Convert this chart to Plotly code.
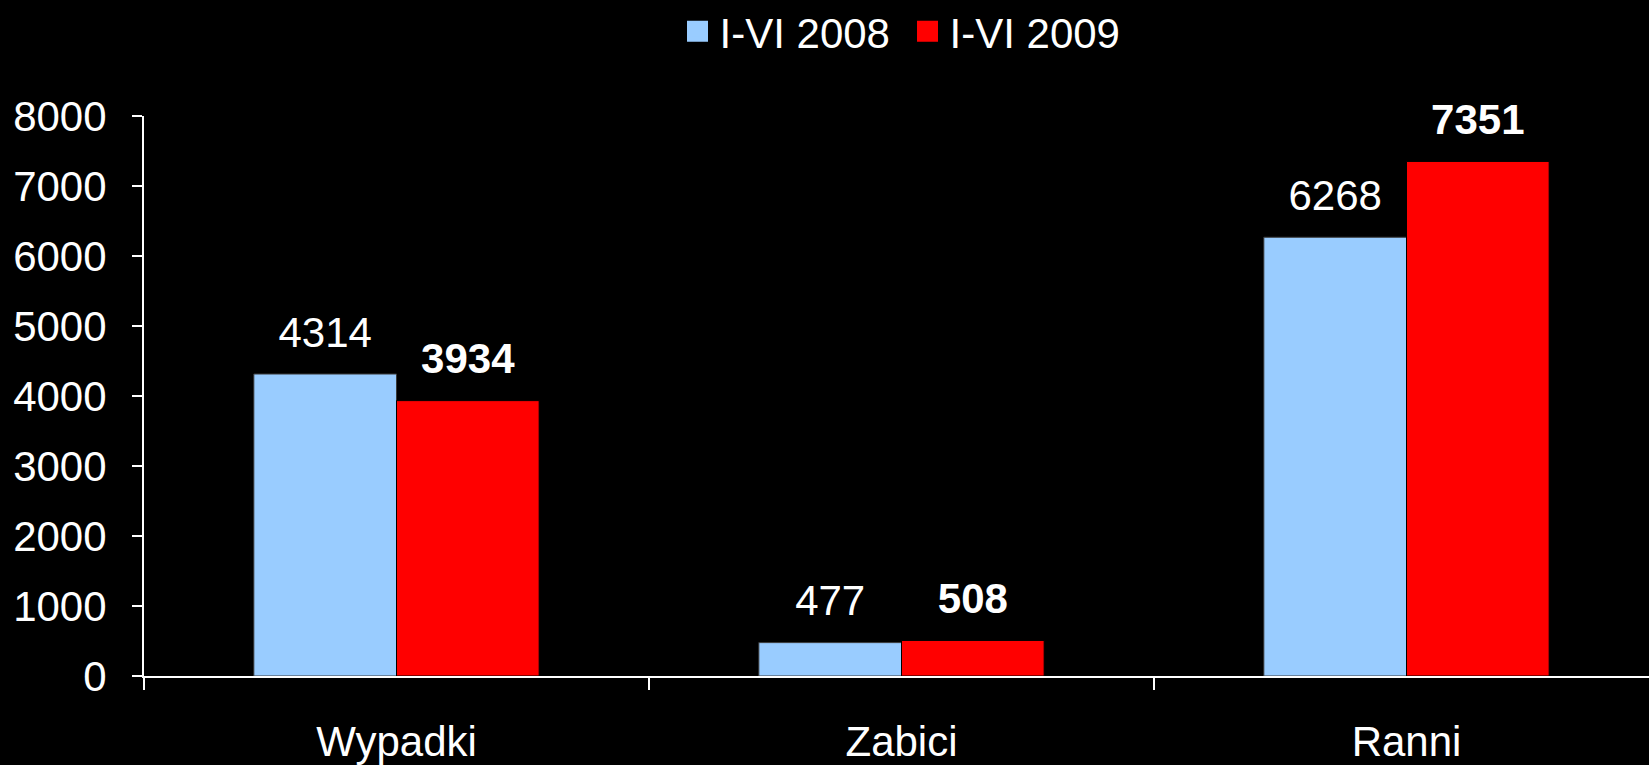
import plotly.graph_objects as go

categories = ["Wypadki", "Zabici", "Ranni"]
series_names = ["I-VI 2008", "I-VI 2009"]
values_2008 = [4314, 477, 6268]
values_2009 = [3934, 508, 7351]
y_ticks = [0, 1000, 2000, 3000, 4000, 5000, 6000, 7000, 8000]

BLUE = "#99CCFF"
RED = "#FF0000"
FONT = "Liberation Sans, Arial, sans-serif"
FS = 42
GAP = 0.435

fig = go.Figure()

fig.add_trace(go.Bar(
    x=categories, y=values_2008, name=series_names[0], offsetgroup="a",
    marker=dict(color=BLUE, line=dict(color="#3a3a3a", width=1)),
    showlegend=False, hoverinfo="skip"))
fig.add_trace(go.Bar(
    x=categories, y=values_2009, name=series_names[1], offsetgroup="b",
    marker=dict(color=RED, line=dict(color="#000000", width=1)),
    showlegend=False, hoverinfo="skip"))

# value labels
fig.add_trace(go.Scatter(
    x=categories, y=values_2008, mode="markers+text", offsetgroup="a",
    text=[str(v) for v in values_2008], textposition="top center",
    textfont=dict(family=FONT, size=FS, color="white"), cliponaxis=False,
    marker=dict(size=25, opacity=0), showlegend=False, hoverinfo="skip"))
fig.add_trace(go.Scatter(
    x=categories, y=values_2009, mode="markers+text", offsetgroup="b",
    text=["<b>%d</b>" % v for v in values_2009], textposition="top center",
    textfont=dict(family=FONT, size=FS, color="white"), cliponaxis=False,
    marker=dict(size=25, opacity=0), showlegend=False, hoverinfo="skip"))

# legend entries
for name, col in [(series_names[0], BLUE), (series_names[1], RED)]:
    fig.add_trace(go.Scatter(
        x=[None], y=[None], mode="markers", name=name,
        marker=dict(symbol="square", size=16, color=col, line=dict(color=col, width=5))))

plot_left, plot_right = 144, 1649
cat_width = 505
x_hi = -0.5 + (plot_right - plot_left) / cat_width

fig.update_layout(
    width=1649, height=765,
    paper_bgcolor="black", plot_bgcolor="black",
    margin=dict(l=plot_left, r=1649 - plot_right, t=116, b=87),
    barmode="group", bargap=GAP, bargroupgap=0,
    scattermode="group", scattergap=GAP,
    font=dict(family=FONT, size=FS, color="white"),
    showlegend=True,
    legend=dict(orientation="h", x=0.506, xanchor="center", y=0.959, yref="container",
                yanchor="middle", font=dict(family=FONT, size=FS, color="white"),
                bgcolor="rgba(0,0,0,0)", itemclick=False, itemwidth=34,
                entrywidth=181, entrywidthmode="pixels"),
    xaxis=dict(range=[-0.5, x_hi], showgrid=False, zeroline=False,
               showline=True, linecolor="white", linewidth=2,
               ticks="outside", tickson="boundaries", ticklen=12, tickwidth=2, tickcolor="white",
               tickfont=dict(family=FONT, size=FS, color="white"), ticklabelstandoff=28),
    yaxis=dict(range=[0, 8000], tickvals=y_ticks, showgrid=False, zeroline=False,
               showline=True, linecolor="white", linewidth=2,
               ticks="outside", ticklen=10, tickwidth=2, tickcolor="white",
               tickfont=dict(family=FONT, size=FS, color="white"), ticklabelstandoff=17),
)

fig.write_html(
    "out.html",
    config={"displayModeBar": False},
    post_script="document.body.style.margin='0';document.body.style.background='black';",
)
